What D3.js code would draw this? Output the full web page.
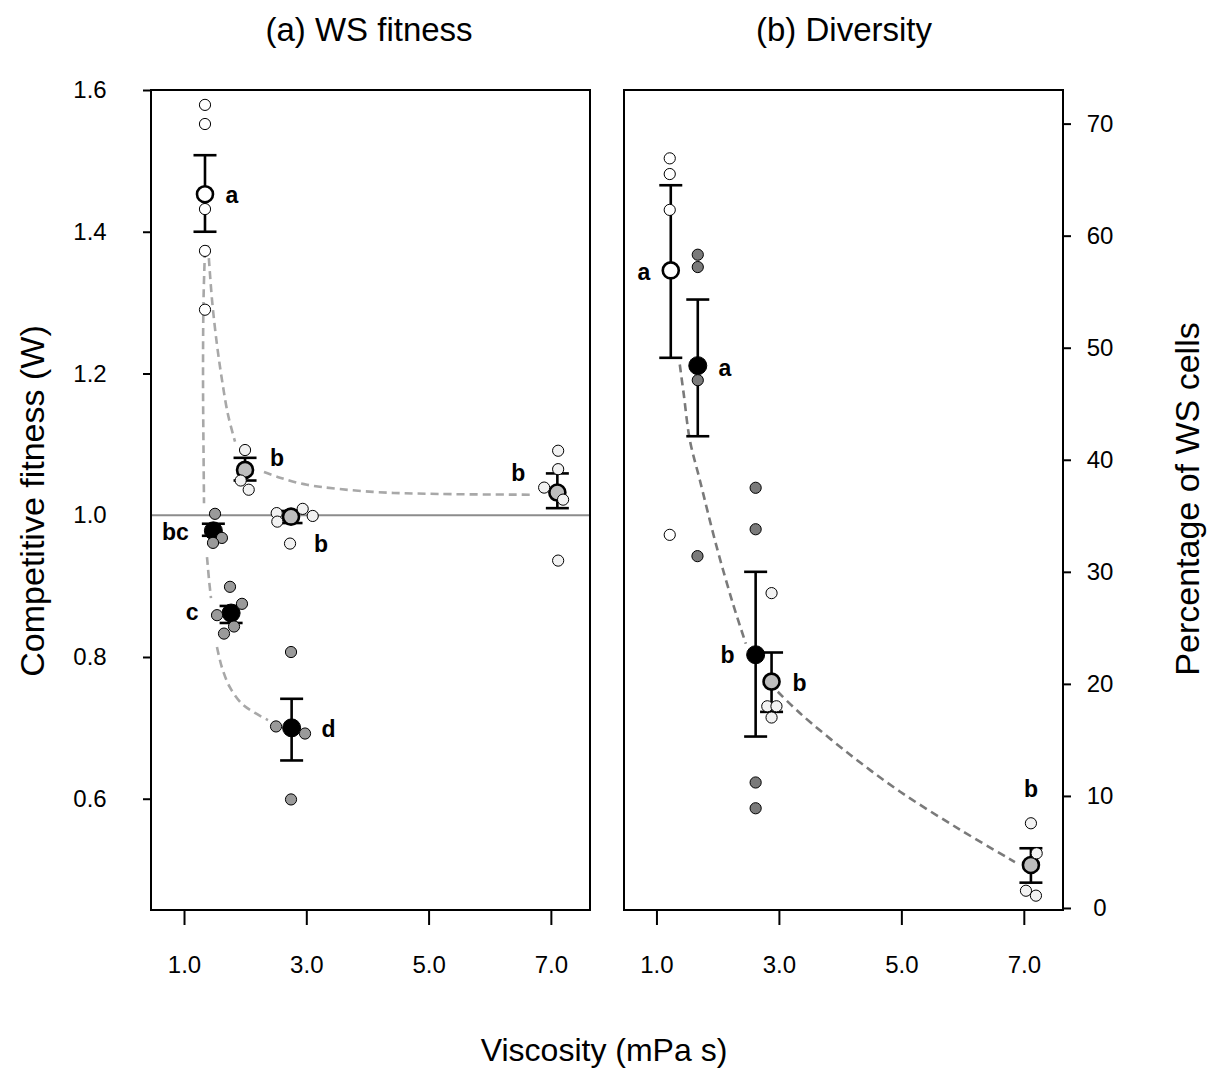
<!DOCTYPE html>
<html>
<head>
<meta charset="utf-8">
<script src="https://cdn.jsdelivr.net/npm/d3@7"></script>
<style>
body { margin: 0; background: #fff; }
text { font-family: Arial, "Liberation Sans", Helvetica, sans-serif; }
</style>
</head>
<body>
<script>
// ---- panel (a) WS fitness ----
const fitX      = [1.343, 1.998, 1.48, 1.77, 2.75, 2.76, 7.106];
const fitMean   = [1.453, 1.064, 0.978, 0.862, 0.998, 0.700, 1.032];
const fitLo     = [1.400, 1.049, 0.971, 0.848, 0.989, 0.654, 1.010];
const fitHi     = [1.508, 1.081, 0.988, 0.872, 1.006, 0.741, 1.059];
const fitType   = ["open", "grey", "black", "black", "grey", "black", "grey"];
const fitLetter = ["a", "b", "bc", "c", "b", "d", "b"];
const fitReps = [
    [1.579, 1.552, 1.432, 1.373, 1.290],
    [1.092, 1.049, 1.036],
    [1.002, 0.968, 0.961],
    [0.899, 0.875, 0.859, 0.843, 0.833],
    [1.003, 0.991, 1.009, 0.999, 0.960],
    [0.807, 0.702, 0.692, 0.599],
    [1.091, 1.065, 1.039, 1.022, 0.936]
];
const fitRepX = [
    [1.343, 1.343, 1.343, 1.343, 1.343],
    [1.998, 1.927, 2.058],
    [1.507, 1.62, 1.474],
    [1.752, 1.948, 1.54, 1.818, 1.654],
    [2.516, 2.526, 2.941, 3.105, 2.734],
    [2.75, 2.505, 2.979, 2.75],
    [7.119, 7.119, 6.89, 7.2, 7.119]
];
// fitted curves (segments)
const fitCurveBlack = [
    [[1.343, 1.374], [1.319, 1.304], [1.311, 1.191], [1.319, 1.092], [1.327, 1.017]],
    [[1.376, 0.941], [1.409, 0.909], [1.441, 0.883]],
    [[1.539, 0.814], [1.621, 0.785], [1.752, 0.757], [1.948, 0.734], [2.161, 0.721], [2.373, 0.711]]
];
const fitCurveGrey = [
    [[1.392, 1.381], [1.458, 1.304], [1.54, 1.240], [1.621, 1.191], [1.719, 1.142], [1.834, 1.104]],
    [[2.308, 1.061], [2.57, 1.053], [3.011, 1.043], [4.09, 1.033], [5.187, 1.030], [6.707, 1.029]]
];

// ---- panel (b) Diversity ----
const divX      = [1.234, 1.675, 2.62, 2.88, 7.116];
const divMean   = [56.9, 48.4, 22.6, 20.2, 3.84];
const divLo     = [49.1, 42.1, 15.3, 17.5, 2.26];
const divHi     = [64.5, 54.3, 30.0, 22.8, 5.33];
const divType   = ["open", "black", "black", "grey", "grey"];
const divLetter = ["a", "a", "b", "b", "b"];
const divReps = [
    [66.9, 65.5, 62.3, 33.3],
    [58.3, 57.2, 47.1, 31.4],
    [37.5, 33.8, 11.2, 8.9],
    [28.1, 18.0, 18.0, 17.0],
    [7.56, 4.88, 1.54, 1.1]
];
const divRepX = [
    [1.217, 1.217, 1.217, 1.217],
    [1.675, 1.675, 1.675, 1.67],
    [2.62, 2.62, 2.62, 2.62],
    [2.88, 2.81, 2.96, 2.88],
    [7.116, 7.21, 7.035, 7.198]
];
const divCurve = [
    [[1.381, 48.5], [1.447, 45.8], [1.544, 41.8], [1.708, 38.2], [1.985, 32.2], [2.247, 27.2], [2.459, 23.6]],
    [[2.982, 19.3], [3.341, 17.4], [4.158, 13.7], [4.975, 10.4], [5.956, 7.0], [6.855, 4.1]]
];

const xTicks = [1, 3, 5, 7];
const fitTicks = [0.6, 0.8, 1.0, 1.2, 1.4, 1.6];
const divTicks = [0, 10, 20, 30, 40, 50, 60, 70];

// label offsets in pixels (layout)
const fitLabelOffset = [[27, 1], [32, -12], [-38, 1], [-39, -1], [30, 27], [37, 1], [-39, -20]];
const divLabelOffset = [[-27, 1], [27, 2], [-28, 0], [28, 1], [0, -76]];

const width = 1209;
const height = 1073;
const plotTop = 90, plotBottom = 910;

let svg = d3.select("body").append("svg")
    .attr("width", width)
    .attr("height", height);

let xA = d3.scaleLinear().domain([0.46, 7.64]).range([151, 590]);
let xB = d3.scaleLinear().domain([0.47, 7.64]).range([624, 1063]);
let yA = d3.scaleLinear().domain([0.443, 1.6]).range([plotBottom, plotTop]);
let yB = d3.scaleLinear().domain([-0.18, 73.0]).range([plotBottom, plotTop]);

function styleAxis(g) {
    g.select(".domain").remove();
    g.selectAll(".tick line").attr("stroke", "#000").attr("stroke-width", 2);
    g.selectAll(".tick text")
        .attr("fill", "#000")
        .style("font-size", "24px");
}

// axes
svg.append("g")
    .attr("transform", `translate(0,${plotBottom})`)
    .call(d3.axisBottom(xA).tickValues(xTicks).tickFormat(d3.format(".1f")).tickSize(15).tickPadding(31))
    .call(styleAxis);
svg.append("g")
    .attr("transform", `translate(0,${plotBottom})`)
    .call(d3.axisBottom(xB).tickValues(xTicks).tickFormat(d3.format(".1f")).tickSize(15).tickPadding(31))
    .call(styleAxis);

let leftAxis = svg.append("g")
    .attr("transform", `translate(151,0)`)
    .call(d3.axisLeft(yA).tickValues(fitTicks).tickFormat(d3.format(".1f")).tickSize(8).tickPadding(53))
    .call(styleAxis);
leftAxis.selectAll(".tick text").attr("text-anchor", "middle");
leftAxis.selectAll(".tick line").filter(d => d === 1.0).attr("stroke", "none");

let rightAxis = svg.append("g")
    .attr("transform", `translate(1063,0)`)
    .call(d3.axisRight(yB).tickValues(divTicks).tickSize(8).tickPadding(29))
    .call(styleAxis);
rightAxis.selectAll(".tick text").attr("text-anchor", "middle");

// reference line at W = 1
svg.append("line")
    .attr("x1", 151).attr("x2", 590)
    .attr("y1", yA(1)).attr("y2", yA(1))
    .attr("stroke", "#8c8c8c")
    .attr("stroke-width", 2);

// fitted curves
function drawCurves(segs, xs, ys, color) {
    let line = d3.line()
        .x(d => xs(d[0]))
        .y(d => ys(d[1]))
        .curve(d3.curveCatmullRom);
    segs.forEach(s => {
        svg.append("path")
            .attr("d", line(s))
            .attr("fill", "none")
            .attr("stroke", color)
            .attr("stroke-width", 2.6)
            .attr("stroke-dasharray", "8,5");
    });
}
drawCurves(fitCurveBlack, xA, yA, "#a8a8a8");
drawCurves(fitCurveGrey, xA, yA, "#a8a8a8");
drawCurves(divCurve, xB, yB, "#7a7a7a");

function meanFill(t) {
    if (t === "black") return "#000";
    if (t === "grey") return "#bdbdbd";
    return "#fff";
}

function drawGroups(xs, ys, gx, mean, lo, hi, type, letters, reps, repX, offsets, darkRep) {
    gx.forEach((x, i) => {
        let px = xs(x);
        let g = svg.append("g");
        // error bar
        g.append("line")
            .attr("x1", px).attr("x2", px)
            .attr("y1", ys(lo[i])).attr("y2", ys(hi[i]))
            .attr("stroke", "#000").attr("stroke-width", 2.6);
        [lo[i], hi[i]].forEach(v => {
            g.append("line")
                .attr("x1", px - 11.5).attr("x2", px + 11.5)
                .attr("y1", ys(v)).attr("y2", ys(v))
                .attr("stroke", "#000").attr("stroke-width", 2.6);
        });
        // mean
        g.append("circle")
            .attr("cx", px).attr("cy", ys(mean[i]))
            .attr("r", type[i] === "black" ? 9 : 8)
            .attr("fill", meanFill(type[i]))
            .attr("stroke", "#000")
            .attr("stroke-width", type[i] === "black" ? 1 : 2.6);
        // replicates
        let repFill = type[i] === "black" ? darkRep : (type[i] === "open" ? "#fff" : "#f2f2f2");
        reps[i].forEach((v, j) => {
            g.append("circle")
                .attr("cx", xs(repX[i][j])).attr("cy", ys(v))
                .attr("r", 5.6)
                .attr("fill", repFill)
                .attr("stroke", "#000")
                .attr("stroke-width", 1);
        });
        // letter
        g.append("text")
            .attr("x", px + offsets[i][0])
            .attr("y", ys(mean[i]) + offsets[i][1])
            .attr("text-anchor", "middle")
            .attr("dy", "0.36em")
            .style("font-size", "23px")
            .style("font-weight", "bold")
            .text(letters[i]);
    });
}
drawGroups(xA, yA, fitX, fitMean, fitLo, fitHi, fitType, fitLetter, fitReps, fitRepX, fitLabelOffset, "#9a9a9a");
drawGroups(xB, yB, divX, divMean, divLo, divHi, divType, divLetter, divReps, divRepX, divLabelOffset, "#7a7a7a");

// panel boxes
[[151, 590], [624, 1063]].forEach(p => {
    svg.append("rect")
        .attr("x", p[0]).attr("y", plotTop)
        .attr("width", p[1] - p[0]).attr("height", plotBottom - plotTop)
        .attr("fill", "none")
        .attr("stroke", "#000")
        .attr("stroke-width", 2);
});

// titles
svg.append("text")
    .attr("x", 369).attr("y", 41)
    .attr("text-anchor", "middle")
    .style("font-size", "33px")
    .text("(a) WS fitness");
svg.append("text")
    .attr("x", 844).attr("y", 41)
    .attr("text-anchor", "middle")
    .style("font-size", "33px")
    .text("(b) Diversity");

svg.append("text")
    .attr("transform", "translate(44,501) rotate(-90)")
    .attr("text-anchor", "middle")
    .style("font-size", "34px")
    .text("Competitive fitness (W)");
svg.append("text")
    .attr("transform", "translate(1199,499) rotate(-90)")
    .attr("text-anchor", "middle")
    .style("font-size", "34px")
    .text("Percentage of WS cells");
svg.append("text")
    .attr("x", 604).attr("y", 1061)
    .attr("text-anchor", "middle")
    .style("font-size", "32px")
    .text("Viscosity (mPa s)");
</script>
</body>
</html>
